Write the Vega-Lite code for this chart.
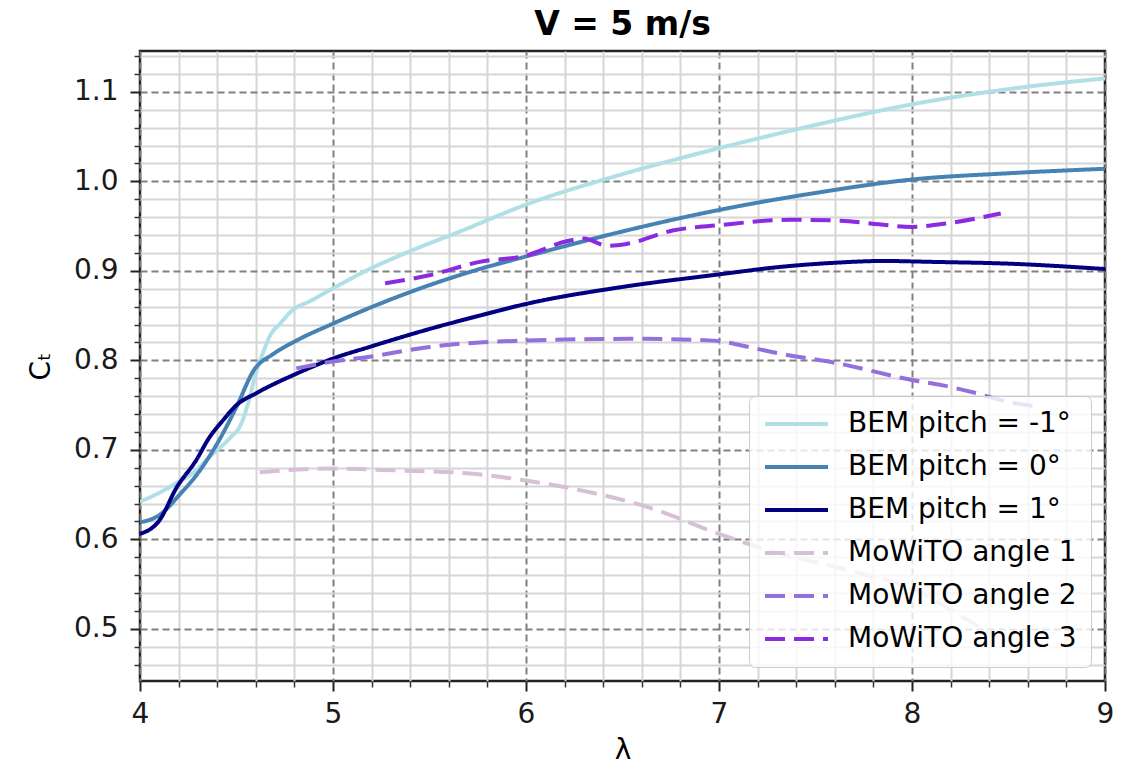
{
  "$schema": "https://vega.github.io/schema/vega-lite/v6.json",
  "autosize": {"type": "none"},
  "width": 965,
  "height": 630,
  "padding": {"left": 140, "top": 51, "right": 22, "bottom": 88},
  "background": "white",
  "config": {
    "view": {"stroke": "#222222", "strokeWidth": 2.5},
    "font": "DejaVu Sans"
  },
  "title": {
    "text": "V = 5 m/s",
    "fontSize": 33,
    "fontWeight": "bold",
    "font": "DejaVu Sans",
    "color": "#000000",
    "anchor": "middle",
    "baseline": "top",
    "offset": 9
  },
  "data": {
    "values": [
      {"series": "BEM pitch = -1°", "lam": 4.0, "ct": 0.642},
      {"series": "BEM pitch = -1°", "lam": 4.1, "ct": 0.652},
      {"series": "BEM pitch = -1°", "lam": 4.19, "ct": 0.663},
      {"series": "BEM pitch = -1°", "lam": 4.28, "ct": 0.675},
      {"series": "BEM pitch = -1°", "lam": 4.36, "ct": 0.692},
      {"series": "BEM pitch = -1°", "lam": 4.47, "ct": 0.714},
      {"series": "BEM pitch = -1°", "lam": 4.52, "ct": 0.727},
      {"series": "BEM pitch = -1°", "lam": 4.56, "ct": 0.752},
      {"series": "BEM pitch = -1°", "lam": 4.6, "ct": 0.785},
      {"series": "BEM pitch = -1°", "lam": 4.64, "ct": 0.81},
      {"series": "BEM pitch = -1°", "lam": 4.67, "ct": 0.826},
      {"series": "BEM pitch = -1°", "lam": 4.73, "ct": 0.842},
      {"series": "BEM pitch = -1°", "lam": 4.79, "ct": 0.856},
      {"series": "BEM pitch = -1°", "lam": 4.88, "ct": 0.866},
      {"series": "BEM pitch = -1°", "lam": 4.98, "ct": 0.878},
      {"series": "BEM pitch = -1°", "lam": 5.19, "ct": 0.902},
      {"series": "BEM pitch = -1°", "lam": 5.4, "ct": 0.922},
      {"series": "BEM pitch = -1°", "lam": 5.67, "ct": 0.945},
      {"series": "BEM pitch = -1°", "lam": 6.0, "ct": 0.974},
      {"series": "BEM pitch = -1°", "lam": 6.5, "ct": 1.008},
      {"series": "BEM pitch = -1°", "lam": 7.0, "ct": 1.037},
      {"series": "BEM pitch = -1°", "lam": 7.5, "ct": 1.063},
      {"series": "BEM pitch = -1°", "lam": 8.0, "ct": 1.086},
      {"series": "BEM pitch = -1°", "lam": 8.5, "ct": 1.103},
      {"series": "BEM pitch = -1°", "lam": 9.0, "ct": 1.115},

      {"series": "BEM pitch = 0°", "lam": 4.0, "ct": 0.619},
      {"series": "BEM pitch = 0°", "lam": 4.1, "ct": 0.627},
      {"series": "BEM pitch = 0°", "lam": 4.21, "ct": 0.651},
      {"series": "BEM pitch = 0°", "lam": 4.29, "ct": 0.671},
      {"series": "BEM pitch = 0°", "lam": 4.4, "ct": 0.707},
      {"series": "BEM pitch = 0°", "lam": 4.5, "ct": 0.748},
      {"series": "BEM pitch = 0°", "lam": 4.59, "ct": 0.789},
      {"series": "BEM pitch = 0°", "lam": 4.69, "ct": 0.807},
      {"series": "BEM pitch = 0°", "lam": 4.81, "ct": 0.822},
      {"series": "BEM pitch = 0°", "lam": 5.0, "ct": 0.841},
      {"series": "BEM pitch = 0°", "lam": 5.24, "ct": 0.863},
      {"series": "BEM pitch = 0°", "lam": 5.5, "ct": 0.884},
      {"series": "BEM pitch = 0°", "lam": 5.76, "ct": 0.902},
      {"series": "BEM pitch = 0°", "lam": 6.0, "ct": 0.916},
      {"series": "BEM pitch = 0°", "lam": 6.5, "ct": 0.944},
      {"series": "BEM pitch = 0°", "lam": 7.0, "ct": 0.968},
      {"series": "BEM pitch = 0°", "lam": 7.5, "ct": 0.987},
      {"series": "BEM pitch = 0°", "lam": 8.0, "ct": 1.002},
      {"series": "BEM pitch = 0°", "lam": 8.5, "ct": 1.009},
      {"series": "BEM pitch = 0°", "lam": 9.0, "ct": 1.014},

      {"series": "BEM pitch = 1°", "lam": 4.0, "ct": 0.606},
      {"series": "BEM pitch = 1°", "lam": 4.1, "ct": 0.621},
      {"series": "BEM pitch = 1°", "lam": 4.19, "ct": 0.658},
      {"series": "BEM pitch = 1°", "lam": 4.29, "ct": 0.688},
      {"series": "BEM pitch = 1°", "lam": 4.36, "ct": 0.714},
      {"series": "BEM pitch = 1°", "lam": 4.43, "ct": 0.733},
      {"series": "BEM pitch = 1°", "lam": 4.5, "ct": 0.75},
      {"series": "BEM pitch = 1°", "lam": 4.6, "ct": 0.763},
      {"series": "BEM pitch = 1°", "lam": 4.81, "ct": 0.785},
      {"series": "BEM pitch = 1°", "lam": 5.0, "ct": 0.802},
      {"series": "BEM pitch = 1°", "lam": 5.19, "ct": 0.815},
      {"series": "BEM pitch = 1°", "lam": 5.5, "ct": 0.835},
      {"series": "BEM pitch = 1°", "lam": 5.76, "ct": 0.85},
      {"series": "BEM pitch = 1°", "lam": 6.0, "ct": 0.863},
      {"series": "BEM pitch = 1°", "lam": 6.5, "ct": 0.882},
      {"series": "BEM pitch = 1°", "lam": 7.0, "ct": 0.896},
      {"series": "BEM pitch = 1°", "lam": 7.3, "ct": 0.904},
      {"series": "BEM pitch = 1°", "lam": 7.6, "ct": 0.909},
      {"series": "BEM pitch = 1°", "lam": 7.85, "ct": 0.911},
      {"series": "BEM pitch = 1°", "lam": 8.1, "ct": 0.910},
      {"series": "BEM pitch = 1°", "lam": 8.5, "ct": 0.908},
      {"series": "BEM pitch = 1°", "lam": 9.0, "ct": 0.902},

      {"series": "MoWiTO angle 1", "lam": 4.62, "ct": 0.675},
      {"series": "MoWiTO angle 1", "lam": 4.98, "ct": 0.679},
      {"series": "MoWiTO angle 1", "lam": 5.33, "ct": 0.677},
      {"series": "MoWiTO angle 1", "lam": 5.68, "ct": 0.674},
      {"series": "MoWiTO angle 1", "lam": 5.99, "ct": 0.666},
      {"series": "MoWiTO angle 1", "lam": 6.28, "ct": 0.655},
      {"series": "MoWiTO angle 1", "lam": 6.63, "ct": 0.636},
      {"series": "MoWiTO angle 1", "lam": 7.0, "ct": 0.606},
      {"series": "MoWiTO angle 1", "lam": 7.3, "ct": 0.585},
      {"series": "MoWiTO angle 1", "lam": 7.68, "ct": 0.565},
      {"series": "MoWiTO angle 1", "lam": 8.04, "ct": 0.541},
      {"series": "MoWiTO angle 1", "lam": 8.18, "ct": 0.524},
      {"series": "MoWiTO angle 1", "lam": 8.32, "ct": 0.506},
      {"series": "MoWiTO angle 1", "lam": 8.45, "ct": 0.49},

      {"series": "MoWiTO angle 2", "lam": 4.81, "ct": 0.791},
      {"series": "MoWiTO angle 2", "lam": 4.98, "ct": 0.798},
      {"series": "MoWiTO angle 2", "lam": 5.19, "ct": 0.804},
      {"series": "MoWiTO angle 2", "lam": 5.5, "ct": 0.815},
      {"series": "MoWiTO angle 2", "lam": 5.76, "ct": 0.82},
      {"series": "MoWiTO angle 2", "lam": 5.99, "ct": 0.822},
      {"series": "MoWiTO angle 2", "lam": 6.54, "ct": 0.824},
      {"series": "MoWiTO angle 2", "lam": 6.97, "ct": 0.822},
      {"series": "MoWiTO angle 2", "lam": 7.13, "ct": 0.816},
      {"series": "MoWiTO angle 2", "lam": 7.28, "ct": 0.809},
      {"series": "MoWiTO angle 2", "lam": 7.63, "ct": 0.796},
      {"series": "MoWiTO angle 2", "lam": 8.0, "ct": 0.778},
      {"series": "MoWiTO angle 2", "lam": 8.16, "ct": 0.772},
      {"series": "MoWiTO angle 2", "lam": 8.32, "ct": 0.764},
      {"series": "MoWiTO angle 2", "lam": 8.47, "ct": 0.755},
      {"series": "MoWiTO angle 2", "lam": 8.65, "ct": 0.748},

      {"series": "MoWiTO angle 3", "lam": 5.27, "ct": 0.886},
      {"series": "MoWiTO angle 3", "lam": 5.5, "ct": 0.895},
      {"series": "MoWiTO angle 3", "lam": 5.76, "ct": 0.91},
      {"series": "MoWiTO angle 3", "lam": 6.0, "ct": 0.917},
      {"series": "MoWiTO angle 3", "lam": 6.21, "ct": 0.933},
      {"series": "MoWiTO angle 3", "lam": 6.3, "ct": 0.936},
      {"series": "MoWiTO angle 3", "lam": 6.42, "ct": 0.928},
      {"series": "MoWiTO angle 3", "lam": 6.52, "ct": 0.93},
      {"series": "MoWiTO angle 3", "lam": 6.76, "ct": 0.945},
      {"series": "MoWiTO angle 3", "lam": 7.0, "ct": 0.951},
      {"series": "MoWiTO angle 3", "lam": 7.37, "ct": 0.957},
      {"series": "MoWiTO angle 3", "lam": 7.63, "ct": 0.956},
      {"series": "MoWiTO angle 3", "lam": 7.83, "ct": 0.952},
      {"series": "MoWiTO angle 3", "lam": 8.0, "ct": 0.949},
      {"series": "MoWiTO angle 3", "lam": 8.18, "ct": 0.953},
      {"series": "MoWiTO angle 3", "lam": 8.46, "ct": 0.964}
    ]
  },
  "layer": [
    {
      "mark": {"type": "line", "opacity": 0},
      "encoding": {
        "x": {
          "field": "lam", "type": "quantitative",
          "scale": {"domain": [4, 9], "nice": false, "zero": false},
          "axis": {
            "orient": "bottom",
            "values": [4.2, 4.4, 4.6, 4.8, 5.2, 5.4, 5.6, 5.8, 6.2, 6.4, 6.6, 6.8, 7.2, 7.4, 7.6, 7.8, 8.2, 8.4, 8.6, 8.8],
            "labels": false, "title": null, "domain": false,
            "ticks": true, "tickSize": 6, "tickWidth": 1.5, "tickColor": "#333333",
            "grid": true, "gridColor": "#d6d6d6", "gridWidth": 2
          }
        },
        "y": {
          "field": "ct", "type": "quantitative",
          "scale": {"domain": [0.4417, 1.1456], "nice": false, "zero": false},
          "axis": {
            "orient": "left",
            "values": [0.46, 0.48, 0.52, 0.54, 0.56, 0.58, 0.62, 0.64, 0.66, 0.68, 0.72, 0.74, 0.76, 0.78, 0.82, 0.84, 0.86, 0.88, 0.92, 0.94, 0.96, 0.98, 1.02, 1.04, 1.06, 1.08, 1.12, 1.14],
            "labels": false, "title": null, "domain": false,
            "ticks": true, "tickSize": 6, "tickWidth": 1.5, "tickColor": "#333333",
            "grid": true, "gridColor": "#d6d6d6", "gridWidth": 2
          }
        },
        "detail": {"field": "series"}
      }
    },
    {
      "mark": {"type": "line", "interpolate": "monotone", "clip": true},
      "encoding": {
        "x": {
          "field": "lam", "type": "quantitative",
          "scale": {"domain": [4, 9], "nice": false, "zero": false},
          "axis": {
            "orient": "bottom",
            "values": [4, 5, 6, 7, 8, 9],
            "format": "d",
            "title": "λ",
            "titleFontSize": 28, "titleFontWeight": "normal", "titleFont": "DejaVu Sans", "titleColor": "#000000",
            "titlePadding": 8,
            "labelFontSize": 28, "labelFont": "DejaVu Sans", "labelColor": "#1a1a1a", "labelPadding": 9,
            "labelFlush": false,
            "domain": false,
            "ticks": true, "tickSize": 10, "tickWidth": 2, "tickColor": "#222222",
            "grid": true, "gridColor": "#808080", "gridWidth": 2, "gridDash": [7, 4]
          }
        },
        "y": {
          "field": "ct", "type": "quantitative",
          "scale": {"domain": [0.4417, 1.1456], "nice": false, "zero": false},
          "axis": {
            "orient": "left",
            "values": [0.5, 0.6, 0.7, 0.8, 0.9, 1.0, 1.1],
            "format": ".1f",
            "title": "Cₜ",
            "titleFontSize": 28, "titleFontWeight": "normal", "titleFont": "DejaVu Sans", "titleColor": "#000000",
            "titlePadding": 18,
            "labelFontSize": 28, "labelFont": "DejaVu Sans", "labelColor": "#1a1a1a", "labelPadding": 12,
            "labelFlush": false,
            "domain": false,
            "ticks": true, "tickSize": 10, "tickWidth": 2, "tickColor": "#222222",
            "grid": true, "gridColor": "#808080", "gridWidth": 2, "gridDash": [7, 4]
          }
        },
        "color": {
          "field": "series", "type": "nominal",
          "scale": {
            "domain": ["BEM pitch = -1°", "BEM pitch = 0°", "BEM pitch = 1°", "MoWiTO angle 1", "MoWiTO angle 2", "MoWiTO angle 3"],
            "range": ["#b0e0e6", "#4682b4", "#000080", "#d8bfd8", "#9370db", "#8a2be2"]
          },
          "legend": {
            "title": null,
            "orient": "bottom-right",
            "offset": 14,
            "padding": 14,
            "fillColor": "rgba(255,255,255,0.8)",
            "strokeColor": "#cccccc",
            "cornerRadius": 6,
            "labelFontSize": 28,
            "labelFont": "DejaVu Sans",
            "labelColor": "#000000",
            "labelLimit": 400,
            "symbolType": "stroke",
            "symbolSize": 3969,
            "clipHeight": 28,
            "rowPadding": 15,
            "labelOffset": 18,
            "symbolOffset": 0
          }
        },
        "strokeDash": {
          "field": "series", "type": "nominal",
          "scale": {
            "domain": ["BEM pitch = -1°", "BEM pitch = 0°", "BEM pitch = 1°", "MoWiTO angle 1", "MoWiTO angle 2", "MoWiTO angle 3"],
            "range": [[1, 0], [1, 0], [1, 0], [20, 9], [20, 9], [20, 9]]
          },
          "legend": null
        },
        "strokeWidth": {
          "field": "series", "type": "nominal",
          "scale": {
            "domain": ["BEM pitch = -1°", "BEM pitch = 0°", "BEM pitch = 1°", "MoWiTO angle 1", "MoWiTO angle 2", "MoWiTO angle 3"],
            "range": [4, 4, 4, 5.5, 5.5, 6.5]
          },
          "legend": null
        }
      }
    }
  ],
  "resolve": {"axis": {"x": "independent", "y": "independent"}}
}
